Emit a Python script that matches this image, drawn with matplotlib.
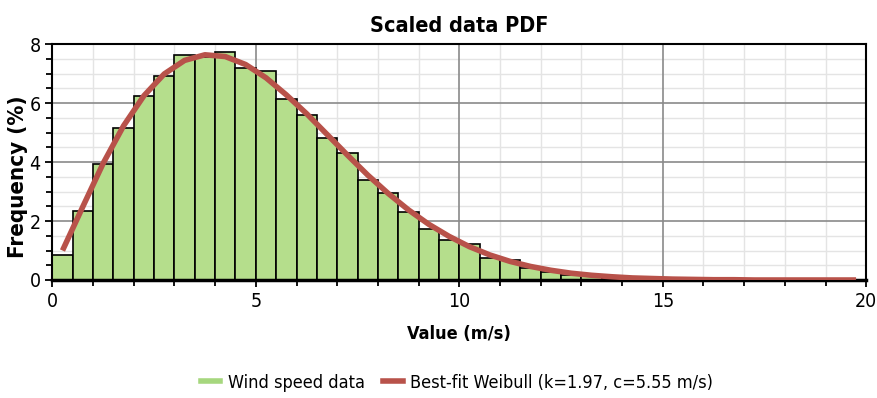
import numpy as np
import matplotlib
matplotlib.use("Agg")
import matplotlib.pyplot as plt
from matplotlib.lines import Line2D
from matplotlib.ticker import MultipleLocator

# histogram bins (left edges, width 0.5 m/s) and frequencies in %
bin_left = np.arange(0, 15, 0.5)
freq = [0.85, 2.34, 3.93, 5.17, 6.24, 6.92, 7.64, 7.58, 7.73, 7.18,
        7.10, 6.14, 5.60, 4.83, 4.30, 3.39, 2.96, 2.32, 1.72, 1.36,
        1.21, 0.74, 0.68, 0.40, 0.28, 0.17, 0.12, 0.08, 0.05, 0.04]

# fitted curve read at bin centres
fit_x = np.arange(0.25, 20, 0.5)
fit_y = [1.0, 2.49, 3.96, 5.23, 6.25, 6.99, 7.45, 7.64, 7.58, 7.31,
         6.86, 6.28, 5.64, 4.94, 4.24, 3.56, 2.94, 2.38, 1.89, 1.48,
         1.13, 0.85, 0.63, 0.46, 0.33, 0.23, 0.16, 0.11, 0.07, 0.05,
         0.03, 0.02, 0.01, 0.01, 0.0, 0.0, 0.0, 0.0, 0.0, 0.0]

green = "#b5de8c"
red = "#b8524a"
plt.rcParams["font.family"] = ["DejaVu Sans"]
plt.rcParams["font.stretch"] = "condensed"

fig = plt.figure(figsize=(8.78, 3.98), dpi=100)
ax = fig.add_axes([0.0596, 0.2965, 0.927, 0.5925])

ax.bar(bin_left, freq, width=0.5, align="edge", color=green,
       edgecolor="black", linewidth=1.2, zorder=2)
ax.plot(fit_x, fit_y, color=red, lw=4, solid_capstyle="butt", zorder=3)

ax.set_xlim(0, 20)
ax.set_ylim(0, 8)
ax.xaxis.set_major_locator(MultipleLocator(5))
ax.xaxis.set_minor_locator(MultipleLocator(1))
ax.yaxis.set_major_locator(MultipleLocator(2))
ax.yaxis.set_minor_locator(MultipleLocator(0.5))
ax.set_axisbelow(True)
ax.grid(which="minor", color="#e4e4e4", lw=1.0)
# major grid drawn separately so the light minor lines do not cross it
for v in ax.get_xticks():
    ax.axvline(v, color="#8a8a8a", lw=1.2, zorder=1)
for v in ax.get_yticks():
    ax.axhline(v, color="#8a8a8a", lw=1.2, zorder=1)
ax.tick_params(which="both", direction="out", color="black", width=1.3)
ax.tick_params(which="major", length=5, labelsize=14)
ax.tick_params(which="minor", length=4)
for s in ax.spines.values():
    s.set_linewidth(1.5)
    s.set_color("black")
ax.spines["bottom"].set_linewidth(2.5)

ax.set_title("Scaled data PDF", fontsize=15.5, fontweight="bold", pad=9)
ax.set_xlabel("Value (m/s)", fontsize=13, fontweight="bold", labelpad=10)
ax.set_ylabel("Frequency (%)", fontsize=16, fontweight="bold")
ax.yaxis.set_label_coords(-0.03, 0.44)

handles = [Line2D([], [], color="#a6d77e", lw=4),
           Line2D([], [], color=red, lw=4)]
fig.legend(handles, ["Wind speed data", "Best-fit Weibull (k=1.97, c=5.55 m/s)"],
           loc="lower center", bbox_to_anchor=(0.52, -0.025), ncol=2, frameon=False,
           fontsize=13, handlelength=1.1, handletextpad=0.4, columnspacing=1.0)

fig.savefig("out.png", dpi=100)
